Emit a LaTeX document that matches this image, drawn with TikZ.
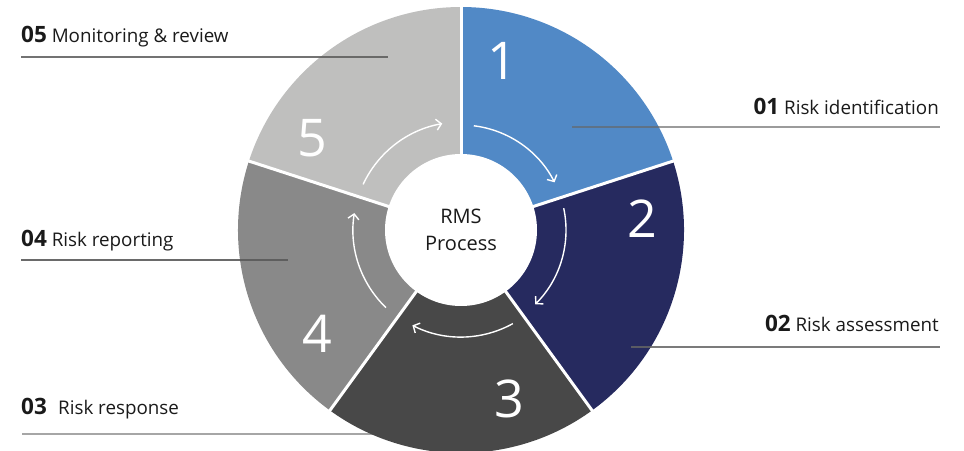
\documentclass[tikz,border=0pt]{standalone}
\usepackage{fontspec}
\setmainfont{Open Sans}
\usetikzlibrary{arrows.meta,calc}
\definecolor{secA}{HTML}{5189C6}
\definecolor{secB}{HTML}{262A5F}
\definecolor{secC}{HTML}{484848}
\definecolor{secD}{HTML}{898989}
\definecolor{secE}{HTML}{BFBFBE}
\definecolor{ink}{HTML}{1A1A1A}
\newcommand{\numlbl}[1]{{\fontsize{22.5}{23}\selectfont\bfseries #1}}
\begin{document}
\begin{tikzpicture}[x=1pt,y=1pt,
  sep/.style={white, line width=3pt},
  flow/.style={white, line width=1.4pt, -{Straight Barb[length=5pt,width=11pt,line width=1.4pt]}},
  digit/.style={text=white, inner sep=0pt, font=\fontsize{52}{52}\selectfont},
  lbl/.style={text=ink, inner sep=0pt, font=\fontsize{18.8}{23}\selectfont},
  rule/.style={line width=1.4pt}
]
\useasboundingbox (0,0) rectangle (964,450);
\coordinate (C) at (461,220);
% line 03 lies partly under sector 3
\coordinate (r3a) at (22,16);
\coordinate (r3b) at (418,16);
\draw[rule, line width=1.8pt, draw={rgb,255:red,128;green,128;blue,128}, draw opacity=0.7] (r3a) -- (r3b);
% sectors
\fill[secA] (C) -- ++(90:223) arc[start angle=90, end angle=18, radius=223] -- cycle;
\fill[secB] (C) -- ++(18:223) arc[start angle=18, end angle=-54, radius=223] -- cycle;
\fill[secC] (C) -- ++(-54:223) arc[start angle=-54, end angle=-126, radius=223] -- cycle;
\fill[secD] (C) -- ++(-126:223) arc[start angle=-126, end angle=-198, radius=223] -- cycle;
\fill[secE] (C) -- ++(162:223) arc[start angle=162, end angle=90, radius=223] -- cycle;
% separators
\foreach \a in {90,18,-54,-126,162} \draw[sep] (C) -- ++(\a:225);
% core
\node[circle, fill=white, minimum size=152pt, inner sep=0pt, align=center, text=ink,
      font=\fontsize{20}{27}\selectfont] (core) at (C) {RMS\\Process};
% flow arrows
\coordinate (f1) at ($(C)+(83:105)$);
\coordinate (f2) at ($(C)+(12:105)$);
\coordinate (f3) at ($(C)+(-61:107)$);
\coordinate (f4) at ($(C)+(-134:108)$);
\coordinate (f5) at ($(C)+(155:108)$);
\draw[flow] (f1) arc[start angle=83, end angle=27, radius=105];
\draw[flow] (f2) arc[start angle=12, end angle=-45, radius=105];
\draw[flow] (f3) arc[start angle=-61, end angle=-117, radius=107];
\draw[flow] (f4) arc[start angle=-134, end angle=-189, radius=108];
\draw[flow] (f5) arc[start angle=155, end angle=100, radius=108];
% digits
\node[digit] (d1) at (502,389) {1};
\node[digit] (d2) at (642,231) {2};
\node[digit] (d3) at (509,51) {3};
\node[digit] (d4) at (317,116) {4};
\node[digit] (d5) at (312,312) {5};
% label rules
\coordinate (r1a) at (572,322.5);
\coordinate (r1b) at (940,322.5);
\draw[rule, line width=2pt, draw={rgb,255:red,102;green,102;blue,102}, draw opacity=0.65] (r1a) -- (r1b);
\coordinate (r2a) at (631,103);
\coordinate (r2b) at (940,103);
\draw[rule, line width=1.3pt, draw={rgb,255:red,100;green,100;blue,100}, draw opacity=0.85] (r2a) -- (r2b);
\coordinate (r4a) at (21,190);
\coordinate (r4b) at (288,190);
\draw[rule, line width=1.3pt, draw={rgb,255:red,90;green,90;blue,90}, draw opacity=0.9] (r4a) -- (r4b);
\coordinate (r5a) at (21,393);
\coordinate (r5b) at (388,393);
\draw[rule, line width=1.3pt, draw={rgb,255:red,90;green,90;blue,90}, draw opacity=0.85] (r5a) -- (r5b);
% labels
\node[lbl, anchor=base east] (t1) at (939,335) {\numlbl{01} Risk identification};
\node[lbl, anchor=base east] (t2) at (939,118) {\numlbl{02} Risk assessment};
\node[lbl, anchor=base west] (t3) at (21,35) {\numlbl{03}\hspace{0.6em}Risk response};
\node[lbl, anchor=base west] (t4) at (21,203) {\numlbl{04} Risk reporting};
\node[lbl, anchor=base west] (t5) at (21,407) {\numlbl{05} Monitoring \& review};
\end{tikzpicture}
\end{document}
